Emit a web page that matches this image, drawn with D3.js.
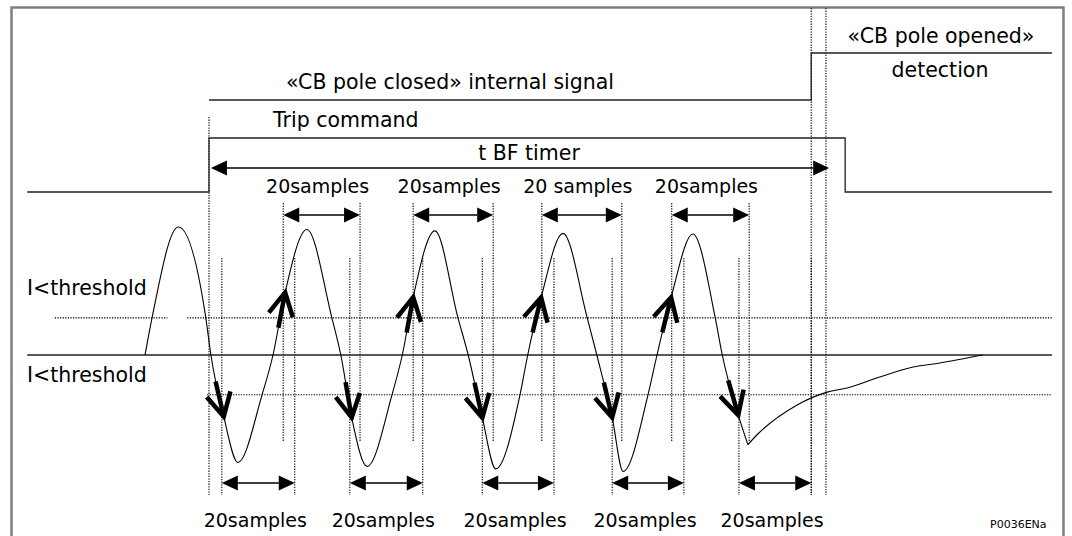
<!DOCTYPE html>
<html>
<head>
<meta charset="utf-8">
<script src="https://cdn.jsdelivr.net/npm/d3@7"></script>
<style>
body { margin: 0; background: #fff; }
text { font-family: "DejaVu Sans", sans-serif; fill: #000; }
</style>
</head>
<body>
<svg></svg>
<script>
var width = 1072,
	height = 536;

// current waveform, [time ms, current p.u.] (0 ms = trip command)
var wave = [
	[-10, 0], [-8.9, 0.29], [-4.8, 1.0], [-0.5, 0.29], [0.3, 0], [2.3, -0.48], [4.5, -0.84], [8.3, -0.31],
	[10.0, 0], [11.9, 0.49], [15.3, 0.98], [19.2, 0.29], [20.6, 0], [22.3, -0.49], [24.7, -0.87], [28.6, -0.31],
	[30.2, 0], [31.9, 0.45], [35.3, 0.97], [38.9, 0.29], [40.5, 0], [42.7, -0.49], [44.8, -0.89], [48.6, -0.31],
	[49.8, 0], [51.9, 0.45], [55.3, 0.95], [59.1, 0.29], [60.6, 0], [63.0, -0.49], [64.7, -0.91], [68.6, -0.31],
	[70.0, 0], [72.2, 0.45], [75.6, 0.945], [79.1, 0.29], [80.2, 0], [82.7, -0.47], [84.2, -0.70]
];
// decaying current after the pole opened
var waveTail = [
	[84.2, -0.70], [85.6, -0.625], [91.9, -0.39], [96.6, -0.29], [99.7, -0.258],
	[104.8, -0.172], [110.0, -0.094], [114.2, -0.0625], [120.9, 0]
];

var thresholdHigh = 0.29,
	thresholdLow = -0.31;

// detection points on the wave (ms)
var downTips = [2.3, 22.3, 42.7, 63.0, 82.7];
var upTips = [11.9, 31.9, 51.9, 72.2];

// 20 sample windows (ms)
var topSpans = [[11.6, 23.6], [31.9, 44.4], [52.0, 64.5], [72.3, 84.4]];
var bottomSpans = [[2.0, 13.4], [22.0, 33.4], [42.7, 53.9], [63.0, 74.2], [82.8, 94.1]];
var topLabels = ["20samples", "20samples", "20 samples", "20samples"];
var bottomLabels = ["20samples", "20samples", "20samples", "20samples", "20samples"];

// logic signals, [time ms, level] steps
var cbClosed = [[0, 0], [94.1, 1], [131.7, 1]];
var tripCmd = [[-28.4, 0], [0, 1], [99.4, 0], [131.7, 0]];
var tbfSpan = [0.3, 96.9];
var detectTimes = [94.1, 96.4];

var tStart = -28.4, tEnd = 131.7;

var svg = d3.select("svg")
	.attr("width", width)
	.attr("height", height);

svg.append("rect")
	.attr("x", 11.5).attr("y", 7.5)
	.attr("width", 1052).attr("height", 560)
	.attr("fill", "#fff")
	.attr("stroke", "#7f7f7f")
	.attr("stroke-width", 2.5);

var x = d3.scaleLinear().domain([0, 100]).range([209, 849]);
var y = d3.scaleLinear().domain([-1, 1]).range([483, 227]);

var g = svg.append("g");

// dotted guide lines
function vdot(t, y1, y2) {
	g.append("line")
		.attr("x1", x(t)).attr("x2", x(t))
		.attr("y1", y1).attr("y2", y2)
		.attr("stroke", "#000")
		.attr("stroke-width", 1.1)
		.attr("stroke-dasharray", "1.3,1.3");
}
function hdot(t1, t2, v) {
	g.append("line")
		.attr("x1", x(t1)).attr("x2", x(t2))
		.attr("y1", y(v)).attr("y2", y(v))
		.attr("stroke", "#000")
		.attr("stroke-width", 1.1)
		.attr("stroke-dasharray", "1.3,1.3");
}

vdot(0, 117, 495);
detectTimes.forEach(function(t) { vdot(t, 8, 495); });
topSpans.forEach(function(s) { vdot(s[0], 203, 442); vdot(s[1], 203, 442); });
bottomSpans.forEach(function(s) { vdot(s[0], 258, 495); vdot(s[1], 258, 495); });

hdot(-24.1, -6.5, thresholdHigh);
hdot(-3.4, tEnd, thresholdHigh);
hdot(-0.3, tEnd, thresholdLow);

// zero line
g.append("line")
	.attr("x1", x(tStart)).attr("x2", x(tEnd))
	.attr("y1", y(0)).attr("y2", y(0))
	.attr("stroke", "#222")
	.attr("stroke-width", 1.3);

// logic signals
var rowCb = d3.scaleLinear().domain([0, 1]).range([100, 53]);
var rowTrip = d3.scaleLinear().domain([0, 1]).range([192, 138]);

g.append("path")
	.attr("d", d3.line().curve(d3.curveStepAfter)
		.x(function(d) { return x(d[0]); })
		.y(function(d) { return rowCb(d[1]); })(cbClosed))
	.attr("fill", "none").attr("stroke", "#222").attr("stroke-width", 1.3);

g.append("path")
	.attr("d", d3.line().curve(d3.curveStepAfter)
		.x(function(d) { return x(d[0]); })
		.y(function(d) { return rowTrip(d[1]); })(tripCmd))
	.attr("fill", "none").attr("stroke", "#222").attr("stroke-width", 1.3);

// double headed arrows
function dblArrow(x1, x2, yy) {
	var hl = 16, hw = 7.5;
	g.append("line")
		.attr("x1", x1 + hl).attr("x2", x2 - hl)
		.attr("y1", yy).attr("y2", yy)
		.attr("stroke", "#000").attr("stroke-width", 1.3);
	g.append("path")
		.attr("d", "M" + x1 + "," + yy + "L" + (x1 + hl) + "," + (yy - hw) + "L" + (x1 + hl) + "," + (yy + hw) + "Z")
		.attr("fill", "#000");
	g.append("path")
		.attr("d", "M" + x2 + "," + yy + "L" + (x2 - hl) + "," + (yy - hw) + "L" + (x2 - hl) + "," + (yy + hw) + "Z")
		.attr("fill", "#000");
}

dblArrow(x(tbfSpan[0]), x(tbfSpan[1]), 168);
topSpans.forEach(function(s) { dblArrow(x(s[0]), x(s[1]), 215); });
bottomSpans.forEach(function(s) { dblArrow(x(s[0]), x(s[1]), 483); });

// waveform
var wline = d3.line().curve(d3.curveMonotoneX)
	.x(function(d) { return x(d[0]); })
	.y(function(d) { return y(d[1]); });

var wavePath = g.append("path")
	.attr("d", wline(wave))
	.attr("fill", "none").attr("stroke", "#000").attr("stroke-width", 1.1);

g.append("path")
	.attr("d", wline(waveTail))
	.attr("fill", "none").attr("stroke", "#000").attr("stroke-width", 1.1);

// thick arrows along the wave
var node = wavePath.node();
var total = node.getTotalLength();
var samples = d3.range(0, total, 0.5).map(function(l) {
	var p = node.getPointAtLength(l);
	return {l: l, x: p.x, y: p.y};
});

function waveArrow(t) {
	var px = x(t);
	var tip = d3.least(samples, function(s) { return Math.abs(s.x - px); });
	var tail = node.getPointAtLength(tip.l - 36);
	var dx = tail.x - tip.x, dy = tail.y - tip.y;
	var len = Math.sqrt(dx * dx + dy * dy);
	dx /= len; dy /= len;
	var a = 28 * Math.PI / 180, bl = 26;
	var b1 = [tip.x + bl * (dx * Math.cos(a) - dy * Math.sin(a)), tip.y + bl * (dx * Math.sin(a) + dy * Math.cos(a))];
	var b2 = [tip.x + bl * (dx * Math.cos(-a) - dy * Math.sin(-a)), tip.y + bl * (dx * Math.sin(-a) + dy * Math.cos(-a))];
	g.append("path")
		.attr("d", "M" + tail.x + "," + tail.y + "L" + tip.x + "," + tip.y +
			"M" + b1[0] + "," + b1[1] + "L" + tip.x + "," + tip.y + "L" + b2[0] + "," + b2[1])
		.attr("fill", "none")
		.attr("stroke", "#000")
		.attr("stroke-width", 4.5)
		.attr("stroke-linejoin", "miter");
}

downTips.forEach(waveArrow);
upTips.forEach(waveArrow);

// texts
function label(txt, xx, yy, anchor, size) {
	g.append("text")
		.attr("x", xx).attr("y", yy)
		.attr("text-anchor", anchor || "start")
		.style("font-size", (size || 20.5) + "px")
		.text(txt);
}

label("\u00abCB pole closed\u00bb internal signal", 450, 89, "middle");
label("Trip command", 273, 127);
label("t BF timer", 529, 160, "middle");
label("\u00abCB pole opened\u00bb", 941, 43, "middle");
label("detection", 940, 77, "middle");
label("I<threshold", 27, 295);
label("I<threshold", 27, 382);

topSpans.forEach(function(s, i) {
	label(topLabels[i], x((s[0] + s[1]) / 2) - 4, 193, "middle", 19);
});
bottomSpans.forEach(function(s, i) {
	label(bottomLabels[i], x((s[0] + s[1]) / 2) - 3, 527, "middle", 19);
});

label("P0036ENa", 990, 528, "start", 11);
</script>
</body>
</html>
